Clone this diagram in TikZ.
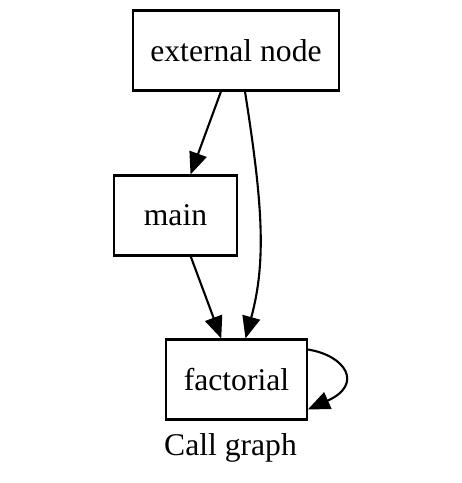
\documentclass[tikz,border=0pt]{standalone}
\usepackage{fontspec}
\setmainfont{Liberation Serif}
\usetikzlibrary{arrows.meta}

\begin{document}
\begin{tikzpicture}[>={Triangle[length=0.44cm,width=0.36cm]},line width=1.2pt,
  fn/.style={draw,rectangle,minimum height=1.6cm,inner sep=0pt,font=\fontsize{18}{22}\selectfont}]
  \fill[white] (0,0) rectangle (9.24,9.66);
  \useasboundingbox (0,0) rectangle (9.24,9.66);
  \node[fn,minimum width=4.13cm] (ext) at (4.72,8.65) {external node};
  \node[fn,minimum width=2.45cm] (main) at (3.51,5.35) {main};
  \node[fn,minimum width=2.81cm] (fact) at (4.73,2.07) {factorial};
  \node[font=\fontsize{18}{22}\selectfont,anchor=base] (title) at (4.61,0.56) {Call graph};
  \draw[->] (ext) -- (main);
  \draw[->] (main) -- (fact);
  \draw[->] ([xshift=0.18cm]ext.south) .. controls (5.24,5.66) and (5.34,4.46) .. ([xshift=0.18cm]fact.north);
  \draw[->] ([yshift=0.6cm]fact.east) .. controls +(0.76,-0.12) and +(1.12,0.5) .. ([yshift=-0.6cm]fact.east);
\end{tikzpicture}
\end{document}
